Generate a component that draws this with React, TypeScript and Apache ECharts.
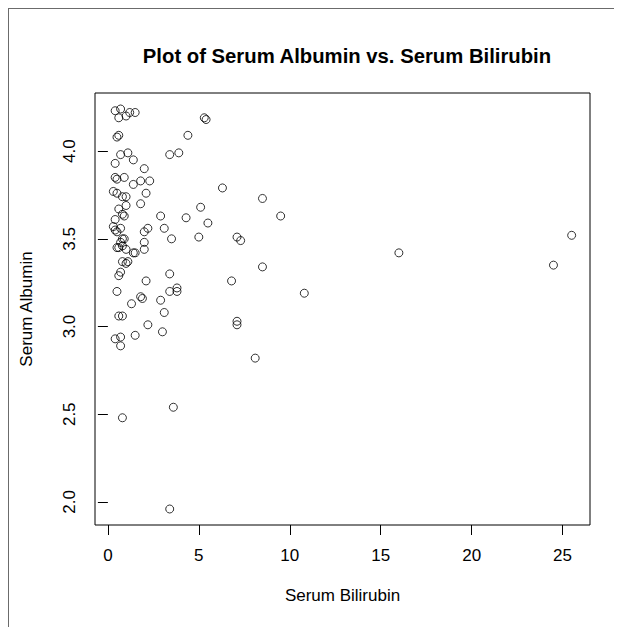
import React, { useEffect, useRef } from "react";
import * as echarts from "echarts";

// Serum bilirubin (mg/dl) and serum albumin (g/dl), one entry per patient
const bilirubin: number[] = [
  0.4, 0.7, 0.6, 1.0, 1.2, 1.5, 5.3, 5.4, 0.5, 0.6,
  4.4, 0.7, 1.1, 1.4, 0.4, 2.0, 3.4, 3.9, 0.4, 0.5,
  0.9, 1.4, 1.8, 2.3, 0.3, 0.5, 0.8, 1.0, 2.1, 6.3,
  1.8, 0.6, 1.0, 0.8, 0.9, 2.9, 4.3, 5.1, 5.5, 0.4,
  0.3, 0.4, 0.5, 0.7, 2.2, 2.0, 3.1, 3.5, 5.0, 0.7,
  0.8, 0.9, 0.5, 0.6, 0.8, 2.0, 2.0, 1.0, 1.4, 1.5,
  0.8, 1.0, 1.1, 0.6, 0.7, 3.4, 2.1, 0.5, 3.8, 3.8,
  3.4, 1.8, 1.9, 1.3, 2.9, 0.6, 0.8, 3.1, 2.2, 3.0,
  0.4, 0.7, 1.5, 0.7, 3.6, 0.8, 3.4, 8.5, 9.5, 7.1,
  7.3, 8.5, 6.8, 10.8, 7.1, 7.1, 8.1, 16.0, 25.5, 24.5,
];

const albumin: number[] = [
  4.23, 4.24, 4.19, 4.20, 4.22, 4.22, 4.19, 4.18, 4.08, 4.09,
  4.09, 3.98, 3.99, 3.95, 3.93, 3.90, 3.98, 3.99, 3.85, 3.84,
  3.85, 3.81, 3.83, 3.83, 3.77, 3.76, 3.74, 3.74, 3.76, 3.79,
  3.70, 3.67, 3.69, 3.64, 3.63, 3.63, 3.62, 3.68, 3.59, 3.61,
  3.57, 3.55, 3.54, 3.56, 3.56, 3.54, 3.56, 3.50, 3.51, 3.48,
  3.50, 3.50, 3.45, 3.45, 3.46, 3.48, 3.44, 3.44, 3.42, 3.42,
  3.37, 3.36, 3.37, 3.29, 3.31, 3.30, 3.26, 3.20, 3.22, 3.20,
  3.20, 3.17, 3.16, 3.13, 3.15, 3.06, 3.06, 3.08, 3.01, 2.97,
  2.93, 2.94, 2.95, 2.89, 2.54, 2.48, 1.96, 3.73, 3.63, 3.51,
  3.49, 3.34, 3.26, 3.19, 3.03, 3.01, 2.82, 3.42, 3.52, 3.35,
];

const xTicks: number[] = [0, 5, 10, 15, 20, 25];
const yTicks: number[] = [2.0, 2.5, 3.0, 3.5, 4.0];

const FONT = "'Liberation Sans', Arial, Helvetica, sans-serif";

// Extend a data range by 4% on each side, like R's default axis style
function padRange(values: number[]): [number, number] {
  const lo = Math.min(...values);
  const hi = Math.max(...values);
  const pad = (hi - lo) * 0.04;
  return [lo - pad, hi + pad];
}

export default function App() {
  const ref = useRef<HTMLDivElement>(null);

  useEffect(() => {
    if (!ref.current) return;
    const chart = echarts.init(ref.current, null, { renderer: "svg" });
    const [xMin, xMax] = padRange(bilirubin);
    const [yMin, yMax] = padRange(albumin);
    const points = bilirubin.map((b, i) => [b, albumin[i]]);

    chart.setOption({
      animation: false,
      backgroundColor: "#ffffff",
      title: {
        text: "Plot of Serum Albumin vs. Serum Bilirubin",
        left: 334,
        top: 33,
        textAlign: "center",
        textStyle: {
          fontFamily: FONT,
          fontWeight: "bold",
          fontSize: 20.3,
          color: "#000",
        },
      },
      graphic: [
        {
          type: "line",
          shape: { x1: 0, y1: 0.5, x2: 614, y2: 0.5 },
          style: { stroke: "#6b6b6b", lineWidth: 1 },
        },
        {
          type: "line",
          shape: { x1: 0.5, y1: 0, x2: 0.5, y2: 619 },
          style: { stroke: "#6b6b6b", lineWidth: 1 },
        },
      ],
      grid: {
        left: 87,
        top: 85,
        width: 495,
        height: 432,
        show: true,
        borderColor: "#000",
        borderWidth: 1,
        backgroundColor: "transparent",
      },
      xAxis: {
        type: "value",
        min: xMin,
        max: xMax,
        name: "Serum Bilirubin",
        nameLocation: "middle",
        nameGap: 62,
        nameTextStyle: { fontFamily: FONT, fontSize: 17, color: "#000" },
        axisLine: { show: false },
        splitLine: { show: false },
        axisTick: {
          show: true,
          length: 10,
          customValues: xTicks,
          lineStyle: { color: "#000", width: 1 },
        },
        axisLabel: {
          customValues: xTicks,
          margin: 22,
          fontFamily: FONT,
          fontSize: 17,
          color: "#000",
          formatter: (v: number) => String(v),
        },
      },
      yAxis: {
        type: "value",
        min: yMin,
        max: yMax,
        name: "Serum Albumin",
        nameLocation: "middle",
        nameRotate: 90,
        nameGap: 60,
        nameTextStyle: { fontFamily: FONT, fontSize: 17, color: "#000" },
        axisLine: { show: false },
        splitLine: { show: false },
        axisTick: {
          show: true,
          length: 10,
          customValues: yTicks,
          lineStyle: { color: "#000", width: 1 },
        },
        axisLabel: {
          customValues: yTicks,
          rotate: 90,
          margin: 17,
          fontFamily: FONT,
          fontSize: 17,
          color: "#000",
          formatter: (v: number) => v.toFixed(1),
        },
      },
      series: [
        {
          type: "scatter",
          data: points,
          symbol: "circle",
          symbolSize: 8,
          itemStyle: {
            color: "transparent",
            borderColor: "#000",
            borderWidth: 1,
          },
          emphasis: { disabled: true },
        },
      ],
    });

    return () => chart.dispose();
  }, []);

  return <div ref={ref} style={{ width: 614, height: 619 }} />;
}
